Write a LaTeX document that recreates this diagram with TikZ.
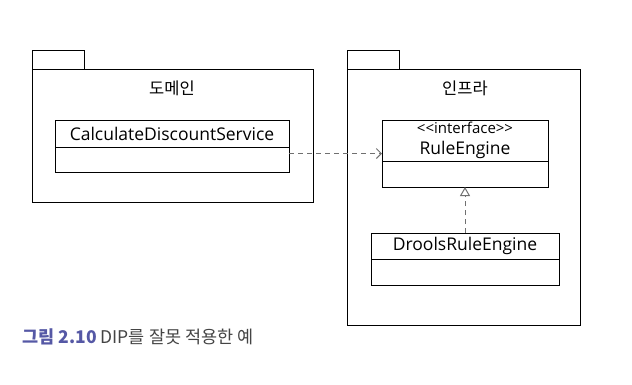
\documentclass[tikz,border=0pt]{standalone}
\usepackage{fontspec}
\setmainfont{Noto Sans CJK KR}
\newfontfamily\clsfont{Open Sans}
\usepackage{xcolor}
\usetikzlibrary{arrows.meta, positioning}
\definecolor{capblue}{HTML}{5558A5}
\definecolor{capgray}{HTML}{444444}
\definecolor{depgray}{HTML}{707070}

\begin{document}
\begin{tikzpicture}[
          x=1pt, y=-1pt, line width=1pt,
          pkg/.style={draw, fill=white},
          head/.style={draw, minimum height=27pt, inner sep=0pt, outer sep=0pt,
                       font=\clsfont\fontsize{17.5}{19}\selectfont},
          body/.style={draw, minimum height=25pt, inner sep=0pt, outer sep=0pt},
          dep/.style={depgray, dash pattern=on 5pt off 4pt,
                      -{Straight Barb[length=5pt, width=10pt, line width=1pt]}},
          real/.style={depgray, dash pattern=on 5pt off 4pt,
                       -{Triangle[open, length=9pt, width=10pt, line width=1pt, fill=white]}}
        ]
          \useasboundingbox (0,0) rectangle (632,384);
          % packages
          \draw[pkg] (32,50) rectangle (84,69);
          \draw[pkg] (32,69) rectangle (313,202);
          \draw[pkg] (347,50) rectangle (399,69);
          \draw[pkg] (347,69) rectangle (580,325);
          \node[font=\fontsize{16.5}{18}\selectfont] (domain) at (172,88) {도메인};
          \node[font=\fontsize{16.5}{18}\selectfont] (infra) at (465,88) {인프라};
          % classes
          \node[head, minimum width=234pt] (cds) at (172,133.5) {CalculateDiscountService};
          \node[body, minimum width=234pt, below=0pt of cds] (cdsb) {};
          \node[head, minimum width=166pt, minimum height=41pt, align=center] (re) at (465,140.5)
            {{\fontsize{15}{15}\selectfont <{}<interface>{}>}\\[2pt]RuleEngine};
          \node[body, minimum width=166pt, minimum height=26pt, below=0pt of re] (reb) {};
          \node[head, minimum width=188pt, minimum height=26pt] (dre) at (465,246) {DroolsRuleEngine};
          \node[body, minimum width=188pt, minimum height=26pt, below=0pt of dre] (dreb) {};
          % relations
          \coordinate (c1) at ([yshift=-6.5pt]cds.south east);
          \draw[dep] (c1) -- (c1 -| re.west);
          \draw[real] (dre) -- (reb);
          % caption
          \node[anchor=west, inner sep=0pt, font=\fontsize{17.5}{19}\selectfont] (cap) at (22,337)
            {\textcolor{capblue}{\bfseries 그림 2.10} \textcolor{capgray}{DIP를 잘못 적용한 예}};
        \end{tikzpicture}
\end{document}
